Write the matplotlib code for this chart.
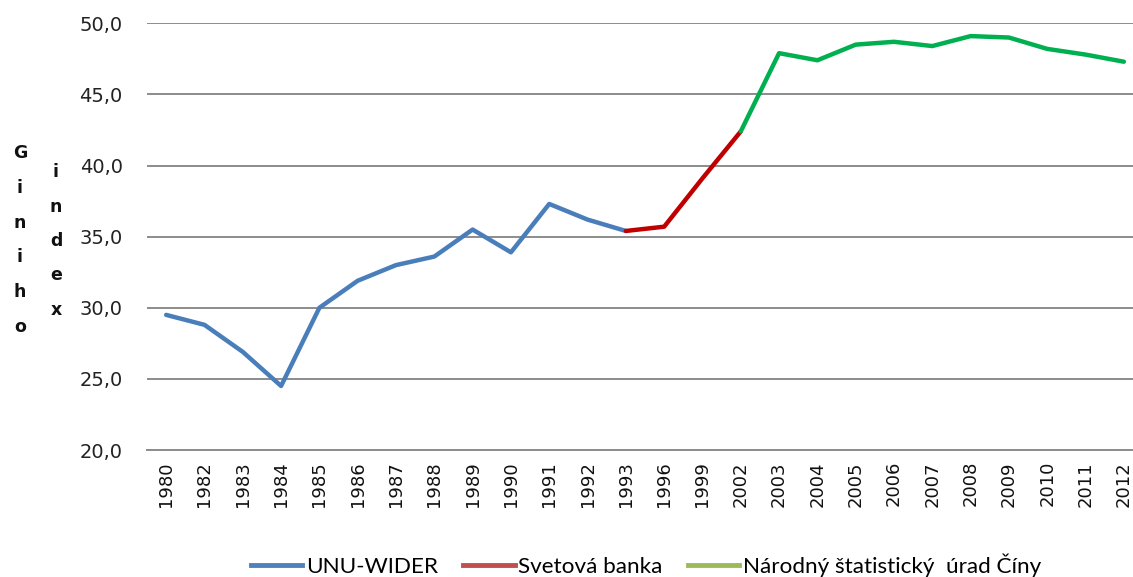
import numpy as np
import matplotlib
matplotlib.use("Agg")
import matplotlib.pyplot as plt
from matplotlib.lines import Line2D

years = ["1980", "1982", "1983", "1984", "1985", "1986", "1987", "1988", "1989",
         "1990", "1991", "1992", "1993", "1996", "1999", "2002", "2003", "2004",
         "2005", "2006", "2007", "2008", "2009", "2010", "2011", "2012"]
nan = np.nan
unu_wider = [29.5, 28.8, 26.9, 24.5, 30.0, 31.9, 33.0, 33.6, 35.5, 33.9, 37.3, 36.2, 35.4,
             nan, nan, nan, nan, nan, nan, nan, nan, nan, nan, nan, nan, nan]
svetova_banka = [nan] * 12 + [35.4, 35.7, 39.1, 42.4] + [nan] * 10
nbs_china = [nan] * 15 + [42.4, 47.9, 47.4, 48.5, 48.7, 48.4, 49.1, 49.0, 48.2, 47.8, 47.3]
series_names = ["UNU-WIDER", "Svetová banka", "Národný štatistický  úrad Číny"]
y_ticks = [20, 25, 30, 35, 40, 45, 50]
y_label_col1 = "Giniho"
y_label_col2 = "index"

W, H = 1133, 577
fig = plt.figure(figsize=(W / 100, H / 100), dpi=100)
left, right, top, bottom = 147, 1143, 23.3, 450
ax = fig.add_axes([left / W, 1 - bottom / H, (right - left) / W, (bottom - top) / H])

line_cols = ["#4A7EBB", "#C00000", "#00B050"]
leg_cols = ["#4F81BD", "#C0504D", "#9BBB59"]
x = np.arange(len(years))
for vals, c in zip([unu_wider, svetova_banka, nbs_china], line_cols):
    ax.plot(x, vals, color=c, lw=3.2, solid_capstyle="round", solid_joinstyle="round",
            clip_on=False, zorder=3)

ax.set_xlim(-0.5, len(years) - 0.5)
ax.set_ylim(20, 50)
ax.set_yticks(y_ticks)
ax.set_yticklabels([f"{v:.1f}".replace(".", ",") for v in y_ticks], fontsize=14,
                   color="#222222")
ax.set_xticks(x)
ax.set_xticklabels(years, rotation=90, fontsize=13, color="#111111")
ax.tick_params(axis="y", length=0, pad=17.5)
ax.tick_params(axis="x", length=0, pad=8)
ax.grid(axis="y", color="#8C8C8C", lw=1.4, zorder=1)
ax.set_axisbelow(True)
for s in ["top", "right", "left"]:
    ax.spines[s].set_visible(False)
ax.spines["bottom"].set_color("#8C8C8C")
ax.spines["bottom"].set_linewidth(1.4)

# stacked vertical axis title
for i, ch in enumerate(y_label_col1):
    fig.text(20 / W, 1 - (153 + i * 34.8) / H, ch, ha="center", va="center",
             fontsize=12.5, fontweight="bold", color="#111111")
for i, ch in enumerate(y_label_col2):
    fig.text(56 / W, 1 - (172 + i * 34.5) / H, ch, ha="center", va="center",
             fontsize=12.5, fontweight="bold", color="#111111")

handles = [Line2D([], [], color=c, lw=3.5) for c in leg_cols]
fig.legend(handles, series_names, loc="center", bbox_to_anchor=(646 / W, 1 - 565.5 / H),
           ncol=3, frameon=False, handlelength=2.3, handletextpad=0.17,
           columnspacing=1.1, borderpad=0.2,
           prop={"family": ["Lato", "DejaVu Sans"], "size": 16.2})

fig.savefig("out.png", dpi=100)
